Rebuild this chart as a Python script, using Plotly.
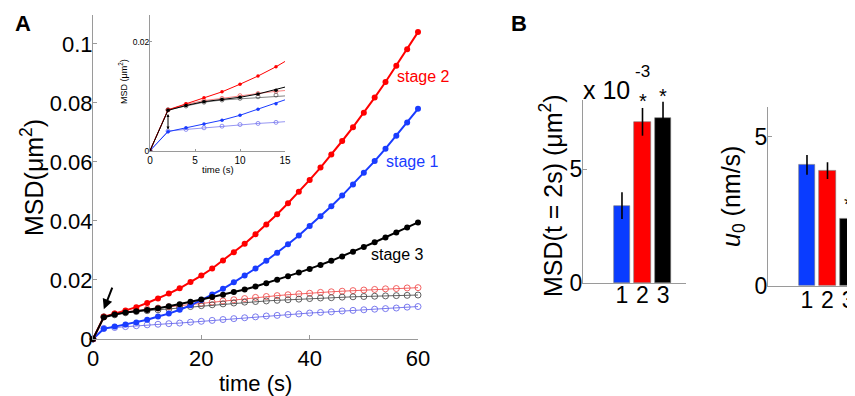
import plotly.graph_objects as go

# ---------------- data ----------------
time_s = list(range(0, 61, 2))

stage1_filled = [0, 0.0035, 0.0042, 0.0049, 0.0056, 0.0065, 0.0076, 0.0086, 0.0099, 0.0114,
                 0.0132, 0.01505, 0.0170, 0.0192, 0.0215, 0.0239, 0.0265, 0.0292, 0.0321, 0.0351,
                 0.0383, 0.0416, 0.0450, 0.0486, 0.0524, 0.0563, 0.0603, 0.0645, 0.0689, 0.0734, 0.0780]
stage2_filled = [0, 0.0075, 0.0086, 0.0097, 0.0108, 0.0122, 0.0137, 0.0154, 0.0172, 0.0193,
                 0.0215, 0.0239, 0.0266, 0.0294, 0.0323, 0.0355, 0.0388, 0.0423, 0.0460, 0.0499,
                 0.0539, 0.0581, 0.0625, 0.0671, 0.0718, 0.0767, 0.0818, 0.0871, 0.0926, 0.0982, 0.1040]
stage3_filled = [0, 0.0074, 0.0083, 0.0090, 0.0094, 0.0098, 0.0104, 0.0111, 0.0118, 0.0126,
                 0.0134, 0.0142, 0.0150, 0.0159, 0.0168, 0.0178, 0.0189, 0.0201, 0.0213, 0.0225,
                 0.0237, 0.0251, 0.0265, 0.0280, 0.0296, 0.0312, 0.0328, 0.0344, 0.0361, 0.0378, 0.0395]

stage1_open = [0, 0.0036, 0.0039, 0.0042, 0.0045, 0.0048, 0.0050, 0.0052, 0.0054, 0.0057,
               0.0060, 0.0063, 0.0066, 0.0069, 0.0072, 0.0075, 0.0078, 0.0080, 0.0083, 0.0085,
               0.0088, 0.0090, 0.0092, 0.0095, 0.0097, 0.0099, 0.0101, 0.0103, 0.0105, 0.0108, 0.0110]
stage2_open = [0, 0.0075, 0.0085, 0.0092, 0.0096, 0.0101, 0.0105, 0.0109, 0.0113, 0.0117,
               0.0121, 0.0125, 0.0129, 0.0133, 0.0137, 0.0141, 0.0144, 0.0147, 0.0150, 0.0153,
               0.0155, 0.0158, 0.0160, 0.0162, 0.0164, 0.0166, 0.0168, 0.0170, 0.0171, 0.0173, 0.0174]
stage3_open = [0, 0.0075, 0.0082, 0.0089, 0.0093, 0.0096, 0.0099, 0.0102, 0.0106, 0.0110,
               0.0113, 0.0116, 0.0119, 0.0122, 0.0125, 0.0127, 0.0129, 0.0131, 0.0133, 0.0135,
               0.0137, 0.0139, 0.0140, 0.0142, 0.0143, 0.0144, 0.0145, 0.0146, 0.0147, 0.0148, 0.0149]

stages = [1, 2, 3]
msd_2s = [3.40, 7.09, 7.24]          # x 10^-3 um^2
msd_2s_err = [0.59, 0.61, 0.73]
u0 = [4.05, 3.86, 2.25]              # nm/s
u0_err = [0.33, 0.28, 0.24]

main_xticks = [0, 20, 40, 60]
main_yticks = [0, 0.02, 0.04, 0.06, 0.08, 0.1]
main_yticktext = ["0", "0.02", "0.04", "0.06", "0.08", "0.1"]

# ---------------- styling ----------------
FONT = "Liberation Sans, Arial, sans-serif"
RED = "#ff0000"
BLUE = "#1a3cff"
BLACK = "#000000"
RED_O = "rgba(240,70,70,0.85)"
BLACK_O = "rgba(70,70,70,0.85)"
BLUE_O = "rgba(100,100,235,0.85)"
BAR_COLORS = ["#0a3cff", "#ff0000", "#000000"]
AX = "#9a9a9a"

# page body has an 8px margin: the figure fills the window from (8, 8)
OFF = 8
W, H = 855 - OFF, 396 - OFF
def px(x):
    return (x - OFF) / W
def py(y):
    return 1 - (y - OFF) / H

fig = go.Figure()

open_series = [(stage2_open, RED_O), (stage3_open, BLACK_O), (stage1_open, BLUE_O)]
filled_series = [(stage1_filled, BLUE), (stage2_filled, RED), (stage3_filled, BLACK)]

# main panel
for ys, c in open_series:
    fig.add_trace(go.Scatter(x=time_s, y=ys, mode="lines+markers", xaxis="x", yaxis="y",
                             line=dict(color=c, width=1),
                             marker=dict(symbol="circle-open", size=6, color=c, line=dict(width=1)),
                             cliponaxis=False, showlegend=False))
for ys, c in filled_series:
    fig.add_trace(go.Scatter(x=time_s, y=ys, mode="lines+markers", xaxis="x", yaxis="y",
                             line=dict(color=c, width=2),
                             marker=dict(symbol="circle", size=6, color=c),
                             cliponaxis=False, showlegend=False))

# inset
for ys, c in open_series:
    fig.add_trace(go.Scatter(x=time_s, y=ys, mode="lines+markers", xaxis="x2", yaxis="y2",
                             line=dict(color=c, width=0.8),
                             marker=dict(symbol="circle-open", size=4, color=c, line=dict(width=0.8)),
                             showlegend=False))
for ys, c in filled_series:
    fig.add_trace(go.Scatter(x=time_s, y=ys, mode="lines+markers", xaxis="x2", yaxis="y2",
                             line=dict(color=c, width=1),
                             marker=dict(symbol="circle", size=3.5, color=c),
                             showlegend=False))

# bars
fig.add_trace(go.Bar(x=stages, y=msd_2s, width=0.8, xaxis="x3", yaxis="y3",
                     marker=dict(color=BAR_COLORS, line=dict(color="#777", width=0.6)),
                     error_y=dict(type="data", array=msd_2s_err, color="black", thickness=1.6, width=0),
                     showlegend=False))
fig.add_trace(go.Bar(x=stages, y=u0, width=0.8, xaxis="x4", yaxis="y4",
                     marker=dict(color=BAR_COLORS, line=dict(color="#777", width=0.6)),
                     error_y=dict(type="data", array=u0_err, color="black", thickness=1.6, width=0),
                     showlegend=False))

axis_common = dict(showline=True, linecolor=AX, linewidth=1, ticks="inside", tickcolor=AX,
                   ticklen=4, showgrid=False, zeroline=False, automargin=False,
                   tickfont=dict(family=FONT, color="black"))

fig.update_layout(
    template="none",
    width=W, height=H, margin=dict(l=0, r=0, t=0, b=0, pad=0, autoexpand=False),
    paper_bgcolor="white", plot_bgcolor="rgba(0,0,0,0)",
    font=dict(family=FONT, color="black"),
    bargap=0,
    xaxis=dict(axis_common, domain=[px(93), px(418)], range=[0, 60], anchor="y",
               tickvals=main_xticks, tickfont=dict(family=FONT, size=22, color="black")),
    yaxis=dict(axis_common, domain=[py(339), py(15)], range=[0, 0.1098], anchor="x",
               tickvals=main_yticks, ticktext=main_yticktext, ticklabelstandoff=-5,
               tickfont=dict(family=FONT, size=22, color="black")),
    xaxis2=dict(axis_common, domain=[px(150), px(285)], range=[0, 15], anchor="y2",
                tickvals=[0, 5, 10, 15], ticklen=2,
                tickfont=dict(family=FONT, size=10, color="black")),
    yaxis2=dict(axis_common, domain=[py(150.7), py(15)], range=[0, 0.0249], anchor="x2",
                tickvals=[0, 0.02], ticktext=["0", "0.02"], ticklen=2, ticklabelstandoff=-2,
                tickfont=dict(family=FONT, size=8.5, color="black")),
    xaxis3=dict(axis_common, domain=[px(583), px(686)], range=[-0.9, 4.12], anchor="y3",
                tickvals=stages, ticks="", ticklabelstandoff=-9,
                tickfont=dict(family=FONT, size=23, color="black")),
    yaxis3=dict(axis_common, domain=[py(283), py(100)], range=[0, 8.05], anchor="x3",
                tickvals=[0, 5], ticklabelstandoff=-5,
                tickfont=dict(family=FONT, size=23, color="black")),
    xaxis4=dict(axis_common, domain=[px(768), 1.0], range=[-0.9, 3.34], anchor="y4",
                tickvals=stages, ticks="", ticklabelstandoff=-6,
                tickfont=dict(family=FONT, size=23, color="black")),
    yaxis4=dict(axis_common, domain=[py(285.7), py(106.7)], range=[0, 6.0], anchor="x4",
                tickvals=[0, 5], ticklabelstandoff=-5,
                tickfont=dict(family=FONT, size=23, color="black")),
)

ann = []
def txt(text, x, y, size, color="black", angle=0, xanchor="center", yanchor="middle"):
    ann.append(dict(text=text, x=x, y=y, xref="paper", yref="paper", showarrow=False,
                    font=dict(family=FONT, size=size, color=color), textangle=angle,
                    xanchor=xanchor, yanchor=yanchor))

txt("<b>A</b>", px(23.5), py(24), 22)
txt("<b>B</b>", px(519), py(24), 22)
txt("MSD(μm<sup>2</sup>)", px(32), py(178), 25, angle=-90)
txt("time (s)", px(255.5), py(383), 22)
txt("stage 2", px(395), py(76), 16, RED, xanchor="left")
txt("stage 1", px(384), py(162), 16, BLUE, xanchor="left")
txt("stage 3", px(369), py(255), 16, BLACK, xanchor="left")
txt("MSD (μm<sup>2</sup>)", px(123), py(82), 9, angle=-90)
txt("time (s)", px(217.5), py(169), 9.5)
txt("MSD(t = 2s) (μm<sup>2</sup>)", px(551), py(196), 25, angle=-90)
txt("x 10", px(606), py(90), 25)
txt("-3", px(642), py(72), 17)
txt("<i>u</i><sub>0</sub> (nm/s)", px(733), py(197), 25, angle=-90)
txt("*", px(642.7), py(101), 20)
txt("*", px(662.7), py(96), 20)
txt("*", px(847.7), py(204), 20)

# arrows
ann.append(dict(x=2.0, y=0.0101, xref="x", yref="y", ax=9, ay=-23, axref="pixel", ayref="pixel",
                showarrow=True, arrowhead=2, arrowsize=1, arrowwidth=2, arrowcolor="black",
                text="", standoff=0))
ann.append(dict(x=2.0, y=0.0039, xref="x2", yref="y2", ax=2.0, ay=0.0070, axref="x2", ayref="y2",
                showarrow=True, arrowhead=2, arrowside="end+start", arrowsize=0.6, arrowwidth=1,
                arrowcolor="black", text="", standoff=0, startstandoff=0))
fig.update_layout(annotations=ann)

fig.write_html("out.html")
